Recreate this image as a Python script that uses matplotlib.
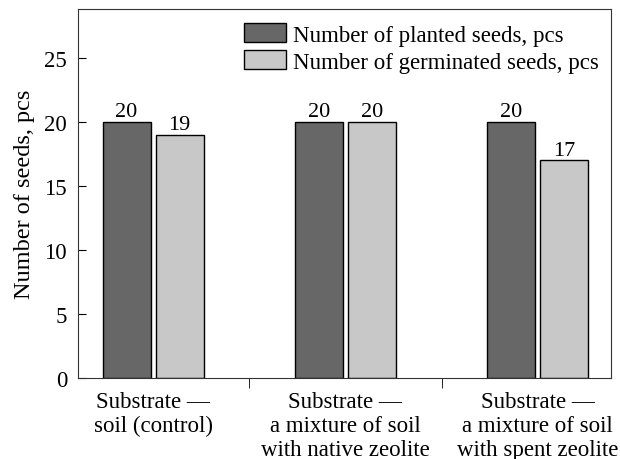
import matplotlib
matplotlib.use('Agg')
import matplotlib.pyplot as plt
import numpy as np

# values
categories = ['Substrate \u2014\nsoil (control)',
              'Substrate \u2014\na mixture of soil\nwith native zeolite',
              'Substrate \u2014\na mixture of soil\nwith spent zeolite']
planted = [20, 20, 20]
germinated = [19, 20, 17]
series_names = ['Number of planted seeds, pcs', 'Number of germinated seeds, pcs']
y_ticks = [0, 5, 10, 15, 20, 25]

plt.rcParams['font.family'] = ['Liberation Serif', 'DejaVu Serif']
plt.rcParams['axes.edgecolor'] = '#333333'

fig = plt.figure(figsize=(6.2, 4.6), dpi=100)
ax = fig.add_axes([0.126, 0.176, 0.859, 0.802])

x = np.arange(len(categories))
w = 0.25
off = 0.138
b1 = ax.bar(x - off, planted, w, color='#676767', edgecolor='black', linewidth=1, label=series_names[0])
b2 = ax.bar(x + off, germinated, w, color='#c8c8c8', edgecolor='black', linewidth=1, label=series_names[1])

for bars, vals in [(b1, planted), (b2, germinated)]:
    for r, v in zip(bars, vals):
        ax.text(r.get_x() + r.get_width() / 2, v + 0.05, str(v), ha='center', va='bottom', fontsize=16)

ax.set_xlim(-0.39, 2.38)
ax.set_ylim(0, 28.8)
ax.set_yticks(y_ticks)
ax.tick_params(axis='y', direction='in', length=6, labelsize=16.5, pad=8)
ax.set_xticks(x)
ax.set_xticklabels(categories, fontsize=16.5, linespacing=1.2)
ax.tick_params(axis='x', length=0, pad=9)
ax.set_xticks([0.5, 1.5], minor=True)
ax.tick_params(axis='x', which='minor', direction='out', length=7)
ax.set_ylabel('Number of seeds, pcs', fontsize=17.5, labelpad=7)

ax.legend(loc='upper left', bbox_to_anchor=(0.311, 0.962), frameon=False, fontsize=16.5,
          handlelength=1.85, handleheight=0.9, handletextpad=0.3, labelspacing=0.2,
          borderaxespad=0, borderpad=0)

fig.savefig('out.png', dpi=100)
